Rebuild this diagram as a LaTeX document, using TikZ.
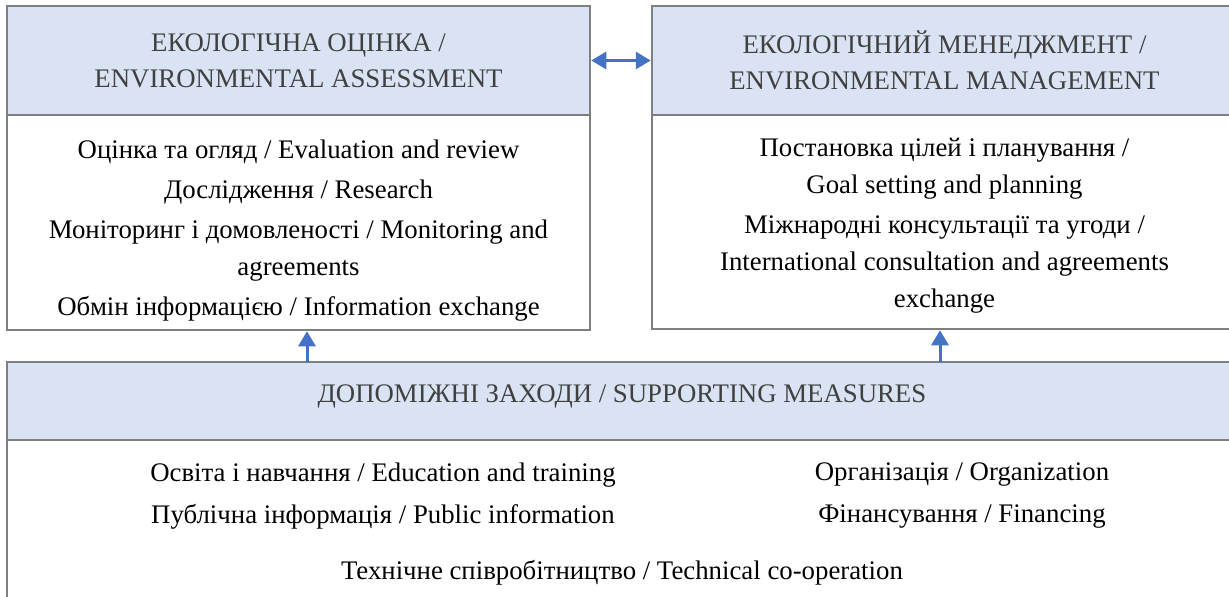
\documentclass[tikz,border=0pt]{standalone}
\usepackage{fontspec}
\setmainfont{Liberation Serif}
\usetikzlibrary{arrows.meta}
\definecolor{headfill}{HTML}{DAE3F3}
\definecolor{boxline}{HTML}{7F7F7F}
\definecolor{arrowblue}{HTML}{4472C4}
\definecolor{headtext}{HTML}{404040}
\begin{document}
\begin{tikzpicture}[x=1pt,y=-1pt,
  headbox/.style={draw=boxline, line width=2.5pt, fill=headfill, inner sep=0pt,
    align=center, text=headtext, font=\fontsize{26.8}{36}\selectfont},
  bodybox/.style={draw=boxline, line width=2.5pt, fill=white, inner sep=0pt},
  itemtext/.style={inner sep=0pt, align=center, font=\fontsize{26.8}{37}\selectfont},
  link/.style={arrowblue, line width=3pt, -{Triangle[width=17pt,length=15pt]}},
  twoway/.style={arrowblue, line width=3pt,
    {Triangle[width=17pt,length=15pt]}-{Triangle[width=17pt,length=15pt]}}]
\clip (0,0) rectangle (1229,597);
%\draw [lightgray](0,0) grid[step=50] (1229,597);

% ekolohichna otsinka
\node[headbox, minimum width=583, minimum height=109] (asshead) at (298.5,60.5)
  {ЕКОЛОГІЧНА ОЦІНКА /\\ ENVIRONMENTAL ASSESSMENT};
\node[bodybox, minimum width=583, minimum height=215] (assbody) at (298.5,222.5) {};
\node[itemtext] (assitems) at (298.5,230.5)
  {Оцінка та огляд / Evaluation and review\\[3pt]
   Дослідження / Research\\[3pt]
   Моніторинг і домовленості / Monitoring and\\ agreements\\[3pt]
   Обмін інформацією / Information exchange};

% ekolohichnyi menedzhment
\node[headbox, minimum width=585, minimum height=109] (mgmthead) at (944.5,60.5)
  {ЕКОЛОГІЧНИЙ МЕНЕДЖМЕНТ /\\ ENVIRONMENTAL MANAGEMENT};
\node[bodybox, minimum width=585, minimum height=214] (mgmtbody) at (944.5,222) {};
\node[itemtext] (mgmtitems) at (944.5,226)
  {Постановка цілей і планування /\\ Goal setting and planning\\[3pt]
   Міжнародні консультації та угоди /\\ International consultation and agreements\\
   exchange};

% dopomizhni zakhody
\node[headbox, minimum width=1230, minimum height=78] (suphead) at (622,401) {};
\node[itemtext, text=headtext] (suptitle) at (622,396)
  {ДОПОМІЖНІ ЗАХОДИ / SUPPORTING MEASURES};
\node[bodybox, minimum width=1230, minimum height=180] (supbody) at (622,530) {};
\node[itemtext] (edu) at (383,475) {Освіта і навчання / Education and training};
\node[itemtext] (pubinfo) at (383,517) {Публічна інформація / Public information};
\node[itemtext] (org) at (962,475) {Організація / Organization};
\node[itemtext] (fin) at (962,517) {Фінансування / Financing};
\node[itemtext] (techcoop) at (622,573) {Технічне співробітництво / Technical co-operation};

% arrows
\draw[twoway] (asshead.east) -- (mgmthead.west);
\coordinate (leftup) at (307,362);
\coordinate (rightup) at (940,362);
\draw[link] (leftup) -- (leftup |- assbody.south);
\draw[link] (rightup) -- (rightup |- mgmtbody.south);

\end{tikzpicture}
\end{document}
